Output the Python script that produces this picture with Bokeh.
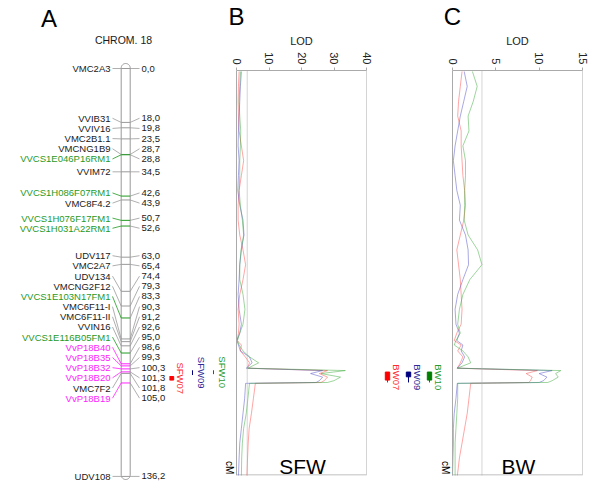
import numpy as np
from math import pi
from bokeh.plotting import figure
from bokeh.layouts import row
from bokeh.models import Range1d, LinearAxis, FixedTicker, Span, Title
from bokeh.embed import file_html
from bokeh.resources import INLINE
from bokeh.core.properties import value

# ------------------------------------------------------------------ data
marker_names = ["VMC2A3", "VVIB31", "VVIV16", "VMC2B1.1", "VMCNG1B9", "VVCS1E046P16RM1",
                "VVIM72", "VVCS1H086F07RM1", "VMC8F4.2", "VVCS1H076F17FM1", "VVCS1H031A22RM1",
                "UDV117", "VMC2A7", "UDV134", "VMCNG2F12", "VVCS1E103N17FM1", "VMC6F11-I",
                "VMC6F11-II", "VVIN16", "VVCS1E116B05FM1", "VvP18B40", "VvP18B35", "VvP18B32",
                "VvP18B20", "VMC7F2", "VvP18B19", "UDV108"]
marker_cm = [0.0, 18.0, 19.8, 23.5, 28.7, 28.8, 34.5, 42.6, 43.9, 50.7, 52.6, 63.0, 65.4,
             74.4, 79.3, 83.3, 90.3, 91.2, 92.6, 95.0, 98.6, 99.3, 100.3, 101.3, 101.8, 105.0, 136.2]
marker_group = ["k", "k", "k", "k", "k", "g", "k", "g", "k", "g", "g", "k", "k", "k", "k", "g",
                "k", "k", "k", "g", "m", "m", "m", "m", "k", "m", "k"]

scan_cm = [0, 5, 10, 15, 20, 25, 30, 35, 40, 45, 50, 55, 60, 65, 70, 75, 80, 85, 88, 90.5,
           92, 94, 96, 98, 99.8, 100.6, 101.6, 102.8, 104.0, 104.6, 104.9, 110, 115, 120, 125, 130, 136.2]
sfw07_lod = [0.8, 0.6, 0.5, 0.6, 0.8, 1.5, 2.2, 1.5, 0.8, 0.5, 0.5, 1.0, 2.0, 2.8, 2.0, 1.0, 0.5,
             0.8, 0.6, 0.2, 1.5, 1.2, 2.7, 4.0, 3.3, 28.0, 25.5, 28.0, 27.0, 26.0, 5.8, 5.2, 4.6,
             3.9, 3.6, 3.4, 3.2]
sfw09_lod = [1.5, 1.2, 1.0, 0.8, 0.6, 0.5, 0.8, 0.6, 0.4, 1.0, 2.0, 2.3, 1.5, 1.0, 0.8, 0.5, 0.8,
             1.5, 1.0, 0.1, 0.6, 1.2, 4.0, 4.8, 3.0, 26.5, 22.8, 26.5, 25.5, 24.5, 2.8, 2.5, 2.0,
             1.5, 1.0, 0.8, 0.6]
sfw10_lod = [1.2, 1.0, 0.8, 1.0, 1.3, 1.2, 1.0, 1.0, 0.8, 1.2, 1.8, 2.2, 1.4, 1.0, 1.0, 2.0, 2.6,
             2.0, 1.0, 0.3, 0.8, 2.0, 4.0, 6.8, 3.5, 33.5, 26.0, 32.0, 30.0, 28.0, 4.0, 3.5, 3.0,
             2.2, 1.8, 1.6, 1.5]
bw07_lod = [1.1, 0.9, 0.7, 0.6, 1.0, 1.0, 1.1, 1.2, 1.4, 1.5, 1.3, 0.9, 0.5, 0.7, 0.9, 1.0, 1.1,
            1.0, 0.5, 0.2, 1.0, 0.6, 1.2, 0.9, 0.55, 9.8, 8.5, 9.2, 9.0, 8.8, 2.1, 1.9, 1.7, 1.4,
            1.1, 0.8, 0.55]
bw09_lod = [1.35, 1.7, 1.3, 0.9, 0.6, 0.3, 0.1, 0.3, 0.5, 0.9, 0.8, 1.5, 1.8, 1.85, 1.2, 0.6, 0.3,
            0.4, 0.8, 0.5, 1.2, 1.0, 1.4, 1.1, 0.55, 11.5, 10.0, 10.9, 10.5, 10.0, 0.55, 0.4, 0.2,
            0.1, 0.1, 0.05, 0.0]
bw10_lod = [2.3, 2.85, 2.4, 1.8, 1.9, 1.2, 1.5, 1.5, 1.4, 1.4, 1.35, 1.8, 2.9, 3.4, 2.0, 1.2, 0.8,
            0.6, 0.9, 0.4, 0.2, 1.2, 1.8, 2.1, 0.55, 12.5, 11.9, 12.2, 11.5, 11.0, 0.6, 0.6, 0.5,
            0.4, 0.3, 0.3, 0.3]

sfw_qtl_names = ["SFW07", "SFW09", "SFW10"]
sfw_qtl_box_lo = [102.6, 101.3, 101.1]
sfw_qtl_box_hi = [103.8, 101.3, 101.1]
sfw_qtl_sup_lo = [102.6, 100.5, 100.5]
sfw_qtl_sup_hi = [103.8, 102.1, 101.8]
bw_qtl_names = ["BW07", "BW09", "BW10"]
bw_qtl_box_lo = [101.1, 101.1, 101.1]
bw_qtl_box_hi = [103.8, 102.7, 103.8]
bw_qtl_sup_lo = [101.1, 101.1, 101.1]
bw_qtl_sup_hi = [104.6, 104.6, 104.6]

sfw_threshold = 3.3
bw_threshold = 3.4
sfw_ticks = [0, 10, 20, 30, 40]
bw_ticks = [0, 5, 10, 15]

# ------------------------------------------------------------------ styles / layout
FONT = "Liberation Sans"
PX_PER_CM = 2.995
CM0_Y = 69.0
LABEL_GAP_PX = 10.17
GROUP_TEXT = {"k": "#1a1a1a", "g": "#1f9a1f", "m": "#ff22ff"}
GROUP_LINE = {"k": "#9a9a9a", "g": "#1f9a1f", "m": "#ff22ff"}
SERIES_COL = ["#ff4a4a", "#5050c8", "#3aaa3a"]
QTL_TEXT = ["#ff2a2a", "#2a2a9a", "#2a9a2a"]
QTL_BOX = ["#ff0000", "#000080", "#007f00"]
FRAME_COL = "#aaaaaa"
ORIGIN = 1          # where the page content starts in the picture
H = 491
A_W = 169           # panel A: 1..170
B_W = 205           # panel B: 170..375
C_W = 217           # panel C: 375..592


def cm_at(img_y):
    return (img_y - CM0_Y) / PX_PER_CM


def spread(pos, gap):
    clusters = [[i] for i in range(len(pos))]

    def start(c):
        return (pos[c[0]] + pos[c[-1]]) / 2 - (len(c) - 1) * gap / 2

    changed = True
    while changed:
        changed = False
        for k in range(len(clusters) - 1):
            a, b = clusters[k], clusters[k + 1]
            if start(a) + len(a) * gap > start(b) + 1e-9:
                clusters[k] = a + b
                del clusters[k + 1]
                changed = True
                break
    out = [0.0] * len(pos)
    for c in clusters:
        s = start(c)
        for j, i in enumerate(c):
            out[i] = s + j * gap
    return out


# ------------------------------------------------------------------ panel A
pA = figure(width=A_W, height=H, x_range=Range1d(ORIGIN, ORIGIN + A_W),
            y_range=Range1d(cm_at(ORIGIN + H), cm_at(ORIGIN)), title=None,
            output_backend="svg", toolbar_location=None, x_axis_location=None, y_axis_location=None,
            min_border_left=0, min_border_right=0, min_border_top=0, min_border_bottom=0,
            frame_align=False)
pA.outline_line_color = None
pA.grid.visible = False

cx, half = 126.2, 4.5
ctop, cbot = cm_at(64), cm_at(480)
r_cm = half / PX_PER_CM
t = np.linspace(0, pi, 24)
xs = np.concatenate([cx - half * np.cos(t), cx + half * np.cos(t)])
ys = np.concatenate([(ctop + r_cm) - r_cm * np.sin(t), (cbot - r_cm) + r_cm * np.sin(t)])
pA.patch(xs, ys, fill_color="white", line_color="#999999", line_width=1)

label_cm = spread(marker_cm, LABEL_GAP_PX / PX_PER_CM)
line_cols = [GROUP_LINE[g] for g in marker_group]
text_cols = [GROUP_TEXT[g] for g in marker_group]
pA.segment(x0=cx - half, x1=cx + half, y0=marker_cm, y1=marker_cm, line_color=line_cols, line_width=1)
pA.segment(x0=113, y0=label_cm, x1=cx - half, y1=marker_cm, line_color=line_cols, line_width=0.8)
pA.segment(x0=cx + half, y0=marker_cm, x1=140, y1=label_cm, line_color="#9a9a9a", line_width=0.8)
pA.text(x=111, y=label_cm, text=marker_names, text_align="right", text_baseline="middle",
        text_font=value(FONT), text_font_size=value("9.5px"), text_color=text_cols)
pA.text(x=142, y=label_cm, text=[f"{v:.1f}".replace(".", ",") for v in marker_cm],
        text_align="left", text_baseline="middle", text_font=value(FONT),
        text_font_size=value("9.5px"), text_color="#1a1a1a")
pA.text(x=[49.5], y=[cm_at(19.2)], text=["A"], text_align="center", text_baseline="middle",
        text_font=value(FONT), text_font_size=value("24px"), text_color="black")
pA.text(x=[124], y=[cm_at(40.5)], text=["CHROM. 18"], text_align="center", text_baseline="middle",
        text_font=value(FONT), text_font_size=value("10.5px"), text_color="#1a1a1a")


# ------------------------------------------------------------------ LOD panels
def lod_panel(width, mbr, lod_max, ticks, thr, series, qnames, blo, bhi, slo, shi,
              letter, letter_w, trait):
    frame_w = width - mbr
    px_per = 130.0 / lod_max
    x0 = lod_max - frame_w / px_per
    zero_px = -x0 * px_per          # distance from frame left to LOD 0
    p = figure(width=width, height=H, x_range=Range1d(x0, lod_max),
               y_range=Range1d(cm_at(476), cm_at(68)), title=None, output_backend="svg",
               toolbar_location=None, x_axis_location=None, y_axis_location=None,
               min_border_left=0, min_border_right=mbr, min_border_top=68 - ORIGIN,
               min_border_bottom=ORIGIN + H - 476, frame_align=False)
    p.outline_line_color = None
    p.grid.visible = False

    ax = LinearAxis(ticker=FixedTicker(ticks=ticks), bounds=(0, lod_max))
    ax.axis_line_color = FRAME_COL
    ax.major_tick_line_color = FRAME_COL
    ax.major_tick_out = 3
    ax.major_tick_in = 0
    ax.minor_tick_out = 0
    ax.minor_tick_in = 0
    ax.major_label_orientation = -pi / 2
    ax.major_label_text_font = FONT
    ax.major_label_text_font_size = "11px"
    ax.major_label_text_color = "#222222"
    ax.major_label_standoff = 3
    p.add_layout(ax, "above")

    lod_w = 22.6
    p.add_layout(Title(text="LOD", align="left", offset=zero_px + 65 - lod_w / 2,
                       text_font=FONT, text_font_size="11px", text_font_style="normal",
                       text_color="#222222", standoff=6), "above")
    p.add_layout(Title(text=letter, align="left", offset=zero_px - letter_w / 2,
                       text_font=FONT, text_font_size="24px", text_font_style="normal",
                       text_color="black", standoff=0), "above")

    p.add_layout(Span(location=0, dimension="height", line_color=FRAME_COL, line_width=1))
    p.add_layout(Span(location=lod_max, dimension="height", line_color=FRAME_COL, line_width=1))
    p.add_layout(Span(location=thr, dimension="height", line_color="#aaaaaa", line_width=1,
                      line_dash="1 1"))
    yb = cm_at(475.5)
    p.segment(x0=[0], x1=[lod_max], y0=[yb], y1=[yb], line_color=FRAME_COL, line_width=1)

    for lod, col in zip(series, SERIES_COL):
        p.line(lod, scan_cm, line_color=col, line_width=0.9, line_alpha=0.55)

    lane_px = [-65, -44, -23]
    for i, name in enumerate(qnames):
        lx = lane_px[i] / px_per
        hw = 2.2 / px_per
        p.segment(x0=[lx], x1=[lx], y0=[slo[i]], y1=[shi[i]], line_color=QTL_BOX[i], line_width=1)
        if bhi[i] > blo[i]:
            p.quad(left=[lx - hw], right=[lx + hw], top=[blo[i]], bottom=[bhi[i]],
                   fill_color=QTL_BOX[i], line_color=QTL_BOX[i])
        p.text(x=[lx + 9 / px_per], y=[(min(blo[i], slo[i]) + max(bhi[i], shi[i])) / 2], text=[name],
               angle=-pi / 2, text_align="center", text_baseline="middle",
               text_font=value(FONT), text_font_size=value("9.5px"), text_color=QTL_TEXT[i])

    p.text(x=[-7.4 / px_per], y=[cm_at(468)], text=["cM"], angle=-pi / 2, text_align="center",
           text_baseline="middle", text_font=value(FONT), text_font_size=value("10px"),
           text_color="black")
    p.text(x=[66 / px_per], y=[cm_at(467)], text=[trait], text_align="center",
           text_baseline="middle", text_font=value(FONT), text_font_size=value("21px"),
           text_color="black")
    return p


pB = lod_panel(B_W, 8, 40, sfw_ticks, sfw_threshold, [sfw07_lod, sfw09_lod, sfw10_lod],
               sfw_qtl_names, sfw_qtl_box_lo, sfw_qtl_box_hi, sfw_qtl_sup_lo, sfw_qtl_sup_hi,
               "B", 16.0, "SFW")
pC = lod_panel(C_W, 9, 15, bw_ticks, bw_threshold, [bw07_lod, bw09_lod, bw10_lod],
               bw_qtl_names, bw_qtl_box_lo, bw_qtl_box_hi, bw_qtl_sup_lo, bw_qtl_sup_hi,
               "C", 17.3, "BW")

layout = row(pA, pB, pC)
open("out.html", "w").write(file_html(layout, INLINE))
